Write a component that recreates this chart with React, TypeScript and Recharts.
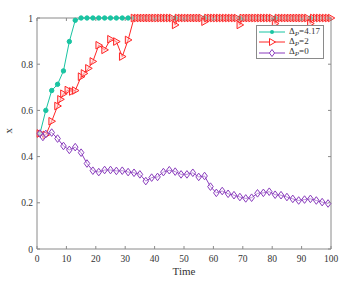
import React from "react";
import { LineChart, Line, XAxis, YAxis, Legend } from "recharts";

// time ticks and value ticks
const xTicks = [0, 10, 20, 30, 40, 50, 60, 70, 80, 90, 100];
const yTicks = [0, 0.2, 0.4, 0.6, 0.8, 1];

// Δp = 4.17
const cyanTime = [1, 3, 5, 7, 9, 11, 13, 15, 17, 19, 21, 23, 25, 27, 29, 31, 33, 35, 37, 39, 41, 43, 45, 47, 49, 51, 53, 55, 57, 59, 61, 63, 65, 67, 69, 71, 73, 75, 77, 79, 81, 83, 85, 87, 89, 91, 93, 95, 97, 99];
const cyanValue = [0.5, 0.6, 0.686, 0.713, 0.771, 0.898, 0.99, 1, 1, 1, 1, 1, 1, 1, 1, 1, 1, 1, 1, 1, 1, 1, 1, 1, 1, 1, 1, 1, 1, 1, 1, 1, 1, 1, 1, 1, 1, 1, 1, 1, 1, 1, 1, 1, 1, 1, 1, 1, 1, 1];

// Δp = 2
const redTime = [1, 3, 5, 7, 8, 9, 10.5, 12, 13, 15, 16, 17.5, 19, 21, 23, 25, 27, 29, 31, 33, 34, 35, 36, 37, 38, 39, 40, 41, 42, 43, 44, 45, 46, 47, 48, 49, 50, 51, 52, 53, 54, 55, 56, 57, 58, 59, 60, 61, 62, 63, 64, 65, 66, 67, 68, 69, 70, 71, 72, 73, 74, 75, 76, 77, 78, 79, 80, 81, 82, 83, 84, 85, 86, 87, 88, 89, 90, 91, 92, 93, 94, 95, 96, 97, 98, 99, 100];
const redValue = [0.5, 0.494, 0.553, 0.619, 0.648, 0.672, 0.688, 0.682, 0.686, 0.746, 0.76, 0.782, 0.812, 0.882, 0.862, 0.908, 0.898, 0.833, 0.905, 1, 1, 1, 1, 1, 1, 1, 1, 1, 1, 1, 1, 1, 1, 0.97, 1, 1, 1, 1, 1, 1, 1, 1, 1, 0.984, 1, 1, 1, 1, 1, 1, 1, 1, 1, 1, 1, 0.97, 1, 1, 1, 1, 1, 1, 1, 1, 1, 1, 1, 0.976, 1, 1, 1, 1, 1, 1, 1, 1, 1, 1, 1, 0.976, 1, 1, 1, 1, 1, 1, 1];

// Δp = 0
const purpleTime = [1, 2, 3, 5, 7, 9, 11, 13, 15, 17, 19, 21, 23, 25, 27, 29, 31, 33, 35, 37, 39, 41, 43, 45, 47, 49, 51, 53, 55, 57, 59, 61, 63, 65, 67, 69, 71, 73, 75, 77, 79, 81, 83, 85, 87, 89, 91, 93, 95, 97, 99];
const purpleValue = [0.5, 0.485, 0.498, 0.504, 0.478, 0.446, 0.429, 0.441, 0.417, 0.37, 0.339, 0.333, 0.342, 0.342, 0.338, 0.339, 0.333, 0.33, 0.323, 0.294, 0.309, 0.312, 0.333, 0.341, 0.335, 0.323, 0.323, 0.33, 0.312, 0.316, 0.27, 0.243, 0.251, 0.239, 0.233, 0.225, 0.219, 0.222, 0.241, 0.243, 0.248, 0.235, 0.233, 0.225, 0.217, 0.21, 0.214, 0.217, 0.21, 0.203, 0.197];

const CYAN = "#19c4a2";
const RED = "#ff2626";
const PURPLE = "#8a3dbd";
const AXIS = "#8a8a8a";
const FONT = "'Liberation Serif', serif";

const zip = (ts: number[], vs: number[]) => ts.map((t, i) => ({ t, v: vs[i] }));
const cyanData = zip(cyanTime, cyanValue);
const redData = zip(redTime, redValue);
const purpleData = zip(purpleTime, purpleValue);

const CircleDot = (p: any) => <circle key={p.index} cx={p.cx} cy={p.cy} r={2.2} fill={CYAN} stroke={CYAN} />;

const TriDot = (p: any) => {
  const { cx, cy } = p;
  return (
    <path
      key={p.index}
      d={`M${cx + 3.8},${cy} L${cx - 2.8},${cy - 3.8} L${cx - 2.8},${cy + 3.8} Z`}
      fill="#ffd0d0"
      fillOpacity={0.5}
      stroke={RED}
      strokeWidth={1}
    />
  );
};

const DiamondDot = (p: any) => {
  const { cx, cy } = p;
  return (
    <path
      key={p.index}
      d={`M${cx},${cy - 3.8} L${cx + 2.8},${cy} L${cx},${cy + 3.8} L${cx - 2.8},${cy} Z`}
      fill="#ffffff"
      fillOpacity={0.4}
      stroke={PURPLE}
      strokeWidth={1}
    />
  );
};

const textStyle = { fontFamily: FONT, fontSize: 9.5, fill: "#333" };

const BottomTick = (p: any) => (
  <g>
    <line x1={p.x} y1={p.y} x2={p.x} y2={p.y - 3} stroke={AXIS} />
    <text x={p.x} y={p.y + 13} textAnchor="middle" style={textStyle}>
      {p.payload.value}
    </text>
  </g>
);

const LeftTick = (p: any) => (
  <g>
    <line x1={p.x} y1={p.y} x2={p.x + 3} y2={p.y} stroke={AXIS} />
    <text x={p.x - 4} y={p.y + 3.5} textAnchor="end" style={textStyle}>
      {p.payload.value}
    </text>
  </g>
);

const TopTick = (p: any) => <line x1={p.x} y1={p.y} x2={p.x} y2={p.y + 3} stroke={AXIS} />;
const RightTick = (p: any) => <line x1={p.x} y1={p.y} x2={p.x - 3} y2={p.y} stroke={AXIS} />;

const legendRows = [
  { color: CYAN, marker: "circle", value: "4.17" },
  { color: RED, marker: "tri", value: "2" },
  { color: PURPLE, marker: "diamond", value: "0" },
];

const renderLegend = () => (
  <div
    style={{
      boxSizing: "border-box",
      border: `1px solid ${AXIS}`,
      background: "#fff",
      width: 68,
      height: 34,
      padding: "1px 0 0 2px",
      fontFamily: FONT,
      fontSize: 9,
      color: "#333",
      lineHeight: "10px",
      whiteSpace: "nowrap",
    }}
  >
    {legendRows.map((r) => (
      <div key={r.value} style={{ display: "flex", alignItems: "center", height: 10.3 }}>
        <svg width={26} height={8} style={{ marginRight: 4, flex: "none" }}>
          <line x1={0} y1={4} x2={26} y2={4} stroke={r.color} />
          {r.marker === "circle" && <circle cx={13} cy={4} r={2} fill={r.color} />}
          {r.marker === "tri" && <path d="M16.5,4 L10.5,0.5 L10.5,7.5 Z" fill="#fff" stroke={r.color} />}
          {r.marker === "diamond" && <path d="M13,0.5 L15.6,4 L13,7.5 L10.4,4 Z" fill="#fff" stroke={r.color} />}
        </svg>
        <span>
          Δ<sub style={{ fontStyle: "italic", fontSize: 7, verticalAlign: "-2px" }}>P</sub>={r.value}
        </span>
      </div>
    ))}
  </div>
);

export default function App() {
  return (
    <div style={{ position: "absolute", left: 0, top: 0, background: "#fff", fontFamily: FONT }}>
      <LineChart width={353} height={284} margin={{ top: 17, right: 21, left: 0, bottom: 0 }}>
        <XAxis
          xAxisId="b"
          type="number"
          dataKey="t"
          domain={[0, 100]}
          ticks={xTicks}
          interval={0}
          height={35}
          tickSize={0}
          tickMargin={0}
          stroke={AXIS}
          tick={<BottomTick />}
          label={{ value: "Time", position: "insideBottom", offset: 9, style: { fontFamily: FONT, fontSize: 11, fill: "#333" } }}
        />
        <XAxis
          xAxisId="t"
          orientation="top"
          type="number"
          dataKey="t"
          domain={[0, 100]}
          ticks={xTicks}
          interval={0}
          height={1}
          tickSize={0}
          tickMargin={0}
          stroke={AXIS}
          tick={<TopTick />}
        />
        <YAxis
          yAxisId="l"
          type="number"
          domain={[0, 1]}
          ticks={yTicks}
          interval={0}
          width={37}
          tickSize={0}
          tickMargin={0}
          stroke={AXIS}
          tick={<LeftTick />}
          label={{ value: "x", angle: -90, position: "insideLeft", offset: 8, style: { fontFamily: FONT, fontSize: 11, fill: "#333" } }}
        />
        <YAxis
          yAxisId="r"
          orientation="right"
          type="number"
          domain={[0, 1]}
          ticks={yTicks}
          interval={0}
          width={1}
          tickSize={0}
          tickMargin={0}
          stroke={AXIS}
          tick={<RightTick />}
        />
        <Legend
          content={renderLegend}
          layout="horizontal"
          align="center"
          verticalAlign="middle"
          wrapperStyle={{ position: "absolute", top: 25, left: 256, width: "auto" }}
        />
        {/* invisible series so the top and right frame axes get drawn */}
        <Line
          xAxisId="t"
          yAxisId="r"
          data={purpleData}
          dataKey="v"
          stroke="none"
          dot={false}
          activeDot={false}
          legendType="none"
          isAnimationActive={false}
        />
        <Line
          xAxisId="b"
          yAxisId="l"
          data={cyanData}
          dataKey="v"
          name="cyan"
          stroke={CYAN}
          strokeWidth={1}
          dot={CircleDot}
          isAnimationActive={false}
        />
        <Line
          xAxisId="b"
          yAxisId="l"
          data={redData}
          dataKey="v"
          name="red"
          stroke={RED}
          strokeWidth={1}
          dot={TriDot}
          isAnimationActive={false}
        />
        <Line
          xAxisId="b"
          yAxisId="l"
          data={purpleData}
          dataKey="v"
          name="purple"
          stroke={PURPLE}
          strokeWidth={1}
          dot={DiamondDot}
          isAnimationActive={false}
        />
      </LineChart>
    </div>
  );
}
